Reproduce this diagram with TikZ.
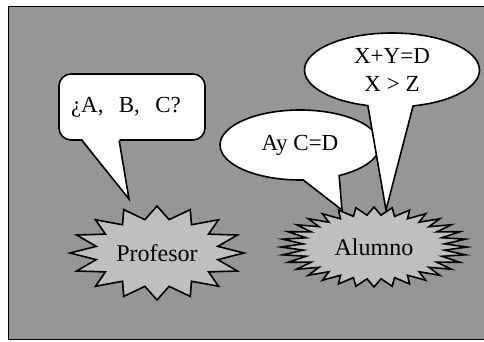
\documentclass[tikz,border=0pt]{standalone}
\usepackage{fontspec}
\setmainfont{Liberation Serif}
\usetikzlibrary{shapes.callouts,calc}
\definecolor{fondo}{gray}{0.59}
\definecolor{relleno}{gray}{0.75}
% starburst: centre, outer rx, outer ry, inner rx, inner ry, points
\newcommand{\estallido}[6]{%
  \filldraw[fill=relleno,line join=miter] ($(#1)+({180/#6}:#4 and #5)$)
    \foreach \k in {1,...,#6}{ -- ($(#1)+({\k*360/#6}:#2 and #3)$)
      -- ($(#1)+({(\k+0.5)*360/#6}:#4 and #5)$)} -- cycle;}

\begin{document}
\begin{tikzpicture}[x=1pt,y=-1pt,line width=1.6pt,
  globo/.style={ellipse callout,draw,fill=white,align=center,
    font=\fontsize{23}{28}\selectfont},
  caja/.style={draw,fill=white,rounded corners=12pt,text width=122pt,
    inner xsep=12pt,minimum height=66pt,align=left,
    font=\fontsize{23}{26}\selectfont},
  nombre/.style={inner sep=0pt,font=\fontsize{24}{28}\selectfont}]
\useasboundingbox (0,0) rectangle (484,341);
\fill[white] (0,0) rectangle (484,341);
\filldraw[fill=fondo] (8.5,6.5) rectangle (495,339.5);

% the two speakers
\coordinate (cprof) at (157,253);
\coordinate (calum) at (374,247);
\estallido{cprof}{87}{47}{62}{34}{16}
\estallido{calum}{93}{40}{71}{32}{32}
\node[nombre] (prof) at (cprof) {Profesor};
\node[nombre] (alum) at (calum) {Alumno};

% teacher's question
\node[caja] (preg) at (132,107) {¿A,\ \ B,\ \ C?};
\coordinate (punta) at ($(prof)+(-28,-54)$);
\fill[white] ($(preg.south west)+(24,-2)$) -- (punta)
  -- ($(preg.south west)+(61,-2)$) -- cycle;
\draw[line join=miter] ($(preg.south west)+(24,0)$) -- (punta)
  -- ($(preg.south west)+(61,0)$);

% student's answers
\node[globo,minimum width=160pt,minimum height=70pt,callout pointer arc=27,
  callout absolute pointer={($(alum)+(-32,-37)$)}] (resp1) at (300,145) {Ay C=D};
\node[globo,minimum width=175pt,minimum height=74pt,callout pointer arc=30,
  callout absolute pointer={($(alum)+(12,-37)$)}] (resp2) at (392,70) {X+Y=D\\X > Z};
\end{tikzpicture}
\end{document}
